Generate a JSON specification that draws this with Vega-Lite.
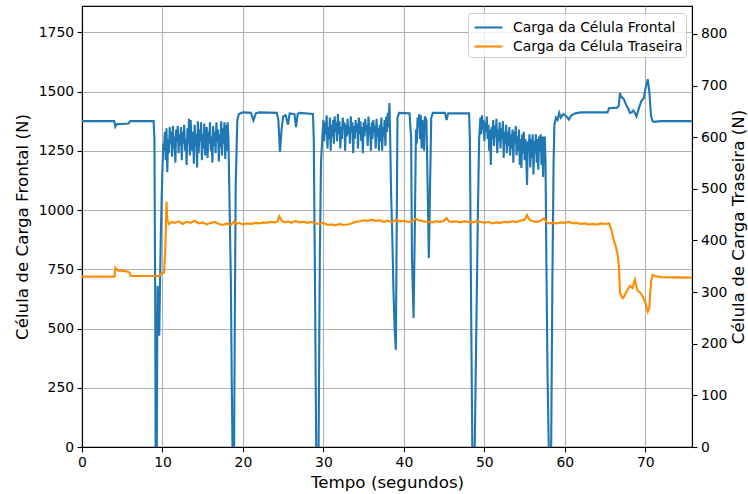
{
"$schema": "https://vega.github.io/schema/vega-lite/v6.json",
"autosize": {"type": "none"},
"padding": {"left": 82, "top": 6, "right": 56, "bottom": 47},
"width": 610,
"height": 441,
"config": {
  "font": "DejaVu Sans",
  "view": {"stroke": "black", "strokeWidth": 1.1},
  "axis": {"labelFont": "DejaVu Sans", "labelFontSize": 13.9, "labelColor": "#000", "titleFont": "DejaVu Sans", "titleFontSize": 16.7, "titleFontWeight": "normal", "titleColor": "#000", "domainColor": "#000", "domainWidth": 1.1, "tickColor": "#000", "tickWidth": 1.1, "tickSize": 4.9, "labelPadding": 3.5, "gridColor": "#b0b0b0", "gridWidth": 1.1, "labelFlush": false, "labelOverlap": false}
},
"datasets": {
"front": [
{"t":0,"v":1375},{"t":4.0,"v":1375},{"t":4.15,"v":1352},{"t":4.3,"v":1362},{"t":5.8,"v":1365},{"t":6.0,"v":1375},{"t":8.9,"v":1375},{"t":9.0,"v":1300},{"t":9.1,"v":600},{"t":9.15,"v":0},{"t":9.3,"v":0},{"t":9.35,"v":480},{"t":9.4,"v":680},{"t":9.5,"v":560},{"t":9.6,"v":470},{"t":9.7,"v":700},{"t":9.8,"v":900},{"t":9.9,"v":1050},{"t":10.0,"v":1180},{"t":10.1,"v":1270},
{"t":10.2,"v":1265},{"t":10.3,"v":1330},{"t":10.4,"v":1210},{"t":10.5,"v":1345},{"t":10.6,"v":1160},{"t":10.7,"v":1300},{"t":10.8,"v":1240},{"t":10.9,"v":1350},{"t":11.0,"v":1280},{"t":11.1,"v":1330},{"t":11.2,"v":1225},{"t":11.3,"v":1355},{"t":11.4,"v":1260},{"t":11.5,"v":1310},{"t":11.6,"v":1200},{"t":11.7,"v":1340},{"t":11.8,"v":1290},{"t":11.9,"v":1355},{"t":12.0,"v":1240},{"t":12.1,"v":1320},{"t":12.2,"v":1270},{"t":12.3,"v":1350},{"t":12.4,"v":1210},{"t":12.5,"v":1330},{"t":12.6,"v":1280},{"t":12.7,"v":1360},{"t":12.8,"v":1250},{"t":12.9,"v":1300},{"t":13.0,"v":1190},{"t":13.1,"v":1345},{"t":13.2,"v":1280},{"t":13.3,"v":1385},{"t":13.4,"v":1230},{"t":13.5,"v":1380},{"t":13.6,"v":1300},{"t":13.7,"v":1250},{"t":13.8,"v":1330},{"t":13.9,"v":1195},{"t":14.0,"v":1360},{"t":14.1,"v":1270},{"t":14.2,"v":1320},{"t":14.3,"v":1180},{"t":14.4,"v":1375},{"t":14.5,"v":1240},{"t":14.6,"v":1340},{"t":14.7,"v":1290},{"t":14.8,"v":1370},{"t":14.9,"v":1210},{"t":15.0,"v":1320},{"t":15.1,"v":1260},{"t":15.2,"v":1365},{"t":15.3,"v":1230},{"t":15.4,"v":1300},{"t":15.5,"v":1350},{"t":15.6,"v":1220},{"t":15.7,"v":1330},{"t":15.8,"v":1280},{"t":15.9,"v":1370},{"t":16.0,"v":1250},{"t":16.1,"v":1310},{"t":16.2,"v":1200},{"t":16.3,"v":1355},{"t":16.4,"v":1270},{"t":16.5,"v":1330},{"t":16.6,"v":1240},{"t":16.7,"v":1370},{"t":16.8,"v":1290},{"t":16.9,"v":1340},{"t":17.0,"v":1205},{"t":17.1,"v":1320},{"t":17.2,"v":1265},{"t":17.3,"v":1375},{"t":17.4,"v":1230},{"t":17.5,"v":1345},{"t":17.6,"v":1280},{"t":17.7,"v":1370},{"t":17.8,"v":1215},{"t":17.9,"v":1360},{"t":18.0,"v":1250},{"t":18.1,"v":1370},{"t":18.2,"v":1300},
{"t":18.3,"v":1100},{"t":18.5,"v":700},{"t":18.6,"v":300},{"t":18.7,"v":0},{"t":18.9,"v":0},{"t":19.0,"v":600},{"t":19.1,"v":1100},{"t":19.3,"v":1380},{"t":19.5,"v":1405},{"t":20.0,"v":1412},{"t":21.0,"v":1410},{"t":21.3,"v":1378},{"t":21.6,"v":1408},{"t":22.0,"v":1412},{"t":24.2,"v":1410},{"t":24.4,"v":1380},{"t":24.6,"v":1245},{"t":24.8,"v":1340},{"t":25.0,"v":1395},{"t":25.3,"v":1400},{"t":25.6,"v":1360},{"t":25.8,"v":1408},{"t":26.4,"v":1405},{"t":26.6,"v":1350},{"t":26.8,"v":1405},{"t":27.0,"v":1410},{"t":28.7,"v":1405},{"t":28.8,"v":1300},{"t":28.95,"v":700},{"t":29.1,"v":0},{"t":29.4,"v":0},{"t":29.55,"v":800},{"t":29.7,"v":1200},{"t":29.85,"v":1300},
{"t":30.0,"v":1380},{"t":30.1,"v":1290},{"t":30.2,"v":1370},{"t":30.3,"v":1320},{"t":30.4,"v":1400},{"t":30.5,"v":1260},{"t":30.6,"v":1350},{"t":30.7,"v":1300},{"t":30.8,"v":1390},{"t":30.9,"v":1250},{"t":31.0,"v":1360},{"t":31.1,"v":1310},{"t":31.2,"v":1380},{"t":31.3,"v":1280},{"t":31.4,"v":1395},{"t":31.5,"v":1330},{"t":31.6,"v":1370},{"t":31.7,"v":1290},{"t":31.8,"v":1405},{"t":31.9,"v":1320},{"t":32.0,"v":1375},{"t":32.1,"v":1260},{"t":32.2,"v":1350},{"t":32.3,"v":1300},{"t":32.4,"v":1390},{"t":32.5,"v":1340},{"t":32.6,"v":1370},{"t":32.7,"v":1250},{"t":32.8,"v":1360},{"t":32.9,"v":1310},{"t":33.0,"v":1385},{"t":33.1,"v":1320},{"t":33.2,"v":1350},{"t":33.3,"v":1280},{"t":33.4,"v":1395},{"t":33.5,"v":1330},{"t":33.6,"v":1370},{"t":33.7,"v":1240},{"t":33.8,"v":1355},{"t":33.9,"v":1300},{"t":34.0,"v":1380},{"t":34.1,"v":1330},{"t":34.2,"v":1365},{"t":34.3,"v":1260},{"t":34.4,"v":1390},{"t":34.5,"v":1320},{"t":34.6,"v":1375},{"t":34.7,"v":1290},{"t":34.8,"v":1350},{"t":34.9,"v":1240},{"t":35.0,"v":1370},{"t":35.1,"v":1310},{"t":35.2,"v":1385},{"t":35.3,"v":1330},{"t":35.4,"v":1360},{"t":35.5,"v":1270},{"t":35.6,"v":1395},{"t":35.7,"v":1320},{"t":35.8,"v":1350},{"t":35.9,"v":1250},{"t":36.0,"v":1370},{"t":36.1,"v":1300},{"t":36.2,"v":1380},{"t":36.3,"v":1330},{"t":36.4,"v":1355},{"t":36.5,"v":1260},{"t":36.6,"v":1385},{"t":36.7,"v":1310},{"t":36.8,"v":1345},{"t":36.9,"v":1250},{"t":37.0,"v":1360},{"t":37.1,"v":1290},{"t":37.2,"v":1390},{"t":37.3,"v":1250},{"t":37.4,"v":1350},{"t":37.5,"v":1310},{"t":37.6,"v":1380},{"t":37.7,"v":1270},{"t":37.8,"v":1395},{"t":37.9,"v":1330},{"t":38.0,"v":1410},{"t":38.1,"v":1350},{"t":38.2,"v":1452},
{"t":38.3,"v":1300},{"t":38.4,"v":1085},{"t":38.55,"v":900},{"t":38.7,"v":663},{"t":38.85,"v":500},{"t":39.0,"v":410},{"t":39.1,"v":900},{"t":39.2,"v":1390},{"t":39.4,"v":1410},{"t":40.7,"v":1408},{"t":40.9,"v":1300},{"t":41.0,"v":800},{"t":41.2,"v":544},{"t":41.35,"v":900},{"t":41.5,"v":1340},{"t":41.6,"v":1280},{"t":41.7,"v":1390},{"t":41.8,"v":1350},{"t":41.9,"v":1405},{"t":42.0,"v":1300},{"t":42.1,"v":1400},{"t":42.2,"v":1260},{"t":42.3,"v":1380},{"t":42.5,"v":1250},{"t":42.6,"v":1395},{"t":42.8,"v":1380},{"t":42.95,"v":1100},{"t":43.1,"v":797},{"t":43.25,"v":1100},{"t":43.4,"v":1390},{"t":43.6,"v":1410},{"t":45.1,"v":1410},{"t":45.3,"v":1380},{"t":45.5,"v":1408},{"t":48.1,"v":1408},{"t":48.2,"v":1300},{"t":48.35,"v":600},{"t":48.5,"v":0},{"t":48.8,"v":0},{"t":49.0,"v":500},{"t":49.2,"v":1000},{"t":49.35,"v":1300},
{"t":49.5,"v":1390},{"t":49.6,"v":1320},{"t":49.7,"v":1400},{"t":49.8,"v":1340},{"t":49.9,"v":1380},{"t":50.0,"v":1290},{"t":50.1,"v":1370},{"t":50.2,"v":1330},{"t":50.3,"v":1395},{"t":50.4,"v":1300},{"t":50.5,"v":1360},{"t":50.6,"v":1250},{"t":50.7,"v":1340},{"t":50.8,"v":1190},{"t":50.9,"v":1350},{"t":51.0,"v":1300},{"t":51.1,"v":1380},{"t":51.2,"v":1270},{"t":51.3,"v":1355},{"t":51.4,"v":1310},{"t":51.5,"v":1385},{"t":51.6,"v":1240},{"t":51.7,"v":1340},{"t":51.8,"v":1290},{"t":51.9,"v":1370},{"t":52.0,"v":1260},{"t":52.1,"v":1345},{"t":52.2,"v":1300},{"t":52.3,"v":1375},{"t":52.4,"v":1220},{"t":52.5,"v":1330},{"t":52.6,"v":1280},{"t":52.7,"v":1360},{"t":52.8,"v":1240},{"t":52.9,"v":1330},{"t":53.0,"v":1270},{"t":53.1,"v":1350},{"t":53.2,"v":1230},{"t":53.3,"v":1320},{"t":53.4,"v":1260},{"t":53.5,"v":1340},{"t":53.6,"v":1200},{"t":53.7,"v":1330},{"t":53.8,"v":1280},{"t":53.9,"v":1355},{"t":54.0,"v":1230},{"t":54.1,"v":1310},{"t":54.2,"v":1250},{"t":54.3,"v":1340},{"t":54.4,"v":1190},{"t":54.5,"v":1300},{"t":54.6,"v":1178},{"t":54.7,"v":1320},{"t":54.8,"v":1240},{"t":54.9,"v":1330},{"t":55.0,"v":1210},{"t":55.1,"v":1300},{"t":55.2,"v":1230},{"t":55.3,"v":1106},{"t":55.4,"v":1290},{"t":55.5,"v":1250},{"t":55.6,"v":1320},{"t":55.7,"v":1180},{"t":55.8,"v":1300},{"t":55.9,"v":1220},{"t":56.0,"v":1320},{"t":56.1,"v":1150},{"t":56.2,"v":1290},{"t":56.3,"v":1240},{"t":56.4,"v":1320},{"t":56.5,"v":1200},{"t":56.6,"v":1300},{"t":56.7,"v":1170},{"t":56.8,"v":1310},{"t":56.9,"v":1250},{"t":57.0,"v":1320},{"t":57.1,"v":1190},{"t":57.2,"v":1310},{"t":57.3,"v":1140},{"t":57.4,"v":1300},{"t":57.5,"v":1310},{"t":57.6,"v":1200},
{"t":57.7,"v":800},{"t":57.85,"v":300},{"t":58.0,"v":0},{"t":58.3,"v":0},{"t":58.45,"v":700},{"t":58.6,"v":1200},{"t":58.7,"v":1360},{"t":58.9,"v":1390},{"t":59.1,"v":1380},{"t":59.3,"v":1410},{"t":59.5,"v":1390},{"t":59.8,"v":1405},{"t":60.2,"v":1395},{"t":60.5,"v":1382},{"t":60.8,"v":1400},{"t":61.3,"v":1408},{"t":62.0,"v":1412},{"t":65.3,"v":1412},{"t":65.5,"v":1430},{"t":66.5,"v":1432},{"t":66.7,"v":1440},{"t":66.85,"v":1493},{"t":67.0,"v":1478},{"t":67.3,"v":1470},{"t":67.6,"v":1445},{"t":67.9,"v":1425},{"t":68.1,"v":1410},{"t":68.3,"v":1412},{"t":68.5,"v":1420},{"t":68.7,"v":1410},{"t":68.9,"v":1395},{"t":69.2,"v":1430},{"t":69.5,"v":1460},{"t":69.8,"v":1472},{"t":70.0,"v":1510},{"t":70.3,"v":1552},{"t":70.5,"v":1500},{"t":70.7,"v":1400},{"t":70.85,"v":1380},{"t":71.0,"v":1372},{"t":72.0,"v":1375},{"t":75.8,"v":1375}
],
"rear": [
{"t":0,"v":330},{"t":4.05,"v":330},{"t":4.15,"v":347},{"t":4.5,"v":342},{"t":5.0,"v":341},{"t":5.6,"v":340},{"t":5.9,"v":338},{"t":6.05,"v":331},{"t":9.5,"v":331},{"t":9.9,"v":336},{"t":10.2,"v":338},{"t":10.35,"v":380},{"t":10.5,"v":475},{"t":10.6,"v":440},{"t":10.8,"v":432},{"t":11.2,"v":436},
{"t":11.5,"v":434},{"t":12.0,"v":437},{"t":12.5,"v":432},{"t":13.0,"v":436},{"t":13.5,"v":434},{"t":14.0,"v":438},{"t":14.5,"v":433},{"t":15.0,"v":435},{"t":15.5,"v":431},{"t":16.0,"v":434},{"t":16.5,"v":436},{"t":17.0,"v":432},{"t":17.5,"v":430},{"t":18.0,"v":433},{"t":18.5,"v":430},{"t":18.9,"v":437},{"t":19.2,"v":432},{"t":19.5,"v":434},{"t":20.0,"v":431},{"t":20.5,"v":433},{"t":21.0,"v":432},{"t":21.5,"v":434},{"t":22.0,"v":433},{"t":22.5,"v":435},{"t":23.0,"v":434},{"t":23.5,"v":436},{"t":24.0,"v":435},{"t":24.3,"v":437},{"t":24.5,"v":447},{"t":24.8,"v":438},{"t":25.2,"v":435},{"t":25.6,"v":437},{"t":26.0,"v":434},{"t":26.5,"v":438},{"t":27.0,"v":435},{"t":27.5,"v":436},{"t":28.0,"v":434},{"t":28.5,"v":436},{"t":29.0,"v":433},{"t":29.5,"v":432},{"t":30.0,"v":434},{"t":30.5,"v":430},{"t":31.0,"v":431},{"t":31.5,"v":429},{"t":32.0,"v":432},{"t":32.5,"v":430},{"t":33.0,"v":431},{"t":33.5,"v":433},{"t":34.0,"v":436},{"t":34.5,"v":437},{"t":35.0,"v":439},{"t":35.5,"v":438},{"t":36.0,"v":440},{"t":36.5,"v":438},{"t":37.0,"v":439},{"t":37.5,"v":436},{"t":38.0,"v":438},{"t":38.5,"v":435},{"t":39.0,"v":440},{"t":39.5,"v":437},{"t":40.0,"v":438},{"t":40.5,"v":436},{"t":41.0,"v":437},{"t":41.5,"v":442},{"t":42.0,"v":438},{"t":42.5,"v":437},{"t":43.0,"v":436},{"t":43.5,"v":435},{"t":44.0,"v":437},{"t":44.5,"v":436},{"t":45.0,"v":438},{"t":45.3,"v":443},{"t":45.6,"v":437},{"t":46.0,"v":436},{"t":46.5,"v":437},{"t":47.0,"v":435},{"t":47.5,"v":437},{"t":48.0,"v":436},{"t":48.5,"v":435},{"t":49.0,"v":437},{"t":49.5,"v":436},{"t":50.0,"v":434},{"t":50.5,"v":436},{"t":51.0,"v":433},{"t":51.5,"v":435},{"t":52.0,"v":434},{"t":52.5,"v":436},{"t":53.0,"v":435},{"t":53.5,"v":437},{"t":54.0,"v":436},{"t":54.5,"v":438},{"t":55.0,"v":440},{"t":55.3,"v":449},{"t":55.6,"v":440},{"t":56.0,"v":437},{"t":56.5,"v":436},{"t":57.0,"v":438},{"t":57.4,"v":443},{"t":57.7,"v":436},{"t":58.0,"v":433},{"t":58.5,"v":434},{"t":59.0,"v":433},{"t":59.5,"v":435},{"t":60.0,"v":434},{"t":60.5,"v":436},{"t":61.0,"v":433},{"t":61.5,"v":434},{"t":62.0,"v":432},{"t":62.5,"v":433},{"t":63.0,"v":431},{"t":63.5,"v":432},{"t":64.0,"v":431},{"t":64.5,"v":433},{"t":65.0,"v":432},{"t":65.5,"v":433},
{"t":65.8,"v":420},{"t":66.0,"v":405},{"t":66.3,"v":390},{"t":66.6,"v":369},{"t":66.75,"v":340},{"t":66.85,"v":298},{"t":67.2,"v":288},{"t":67.4,"v":292},{"t":67.8,"v":305},{"t":68.1,"v":312},{"t":68.4,"v":308},{"t":68.7,"v":324},{"t":69.0,"v":304},{"t":69.4,"v":298},{"t":69.7,"v":291},{"t":70.0,"v":280},{"t":70.3,"v":262},{"t":70.5,"v":270},{"t":70.7,"v":320},{"t":70.9,"v":333},{"t":71.2,"v":331},{"t":72.0,"v":329},{"t":75.8,"v":328}
]
},
"layer": [
  {
    "data": {"name": "front"},
    "mark": {"type": "line", "strokeWidth": 2.1, "clip": true},
    "encoding": {
      "x": {"field": "t", "type": "quantitative", "scale": {"domain": [0, 75.8], "nice": false, "zero": false}, "axis": {"title": "Tempo (segundos)", "values": [0,10,20,30,40,50,60,70], "grid": true, "titlePadding": 5}},
      "y": {"field": "v", "type": "quantitative", "scale": {"domain": [0, 1861], "nice": false}, "axis": {"title": "Célula de Carga Frontal (N)", "orient": "left", "format": "d", "values": [0,250,500,750,1000,1250,1500,1750], "grid": true, "titlePadding": 7}},
      "color": {"datum": "Carga da Célula Frontal", "type": "nominal", "scale": {"domain": ["Carga da Célula Frontal", "Carga da Célula Traseira"], "range": ["#1f77b4", "#ff8c00"]},
        "legend": {"title": null, "orient": "none", "legendX": 386, "legendY": 7, "symbolType": "M-1.4,0H1.4", "symbolSize": 400, "symbolOffset": 6, "symbolStrokeWidth": 2.1, "labelFont": "DejaVu Sans", "labelFontSize": 13.9, "labelColor": "#000", "labelLimit": 0, "labelOffset": 13, "padding": 3, "rowPadding": 0, "strokeColor": "#cccccc", "fillColor": "rgba(255,255,255,0.8)", "cornerRadius": 3}}
    }
  },
  {
    "data": {"name": "rear"},
    "mark": {"type": "line", "strokeWidth": 2.1, "clip": true},
    "encoding": {
      "x": {"field": "t", "type": "quantitative"},
      "y": {"field": "v", "type": "quantitative", "scale": {"domain": [0, 854], "nice": false}, "axis": {"title": "Célula de Carga Traseira (N)", "orient": "right", "values": [0,100,200,300,400,500,600,700,800], "grid": false, "titleAngle": 270, "titleBaseline": "top", "titlePadding": 4}},
      "color": {"datum": "Carga da Célula Traseira", "type": "nominal"}
    }
  }
],
"resolve": {"scale": {"y": "independent"}, "axis": {"y": "independent"}}
}
